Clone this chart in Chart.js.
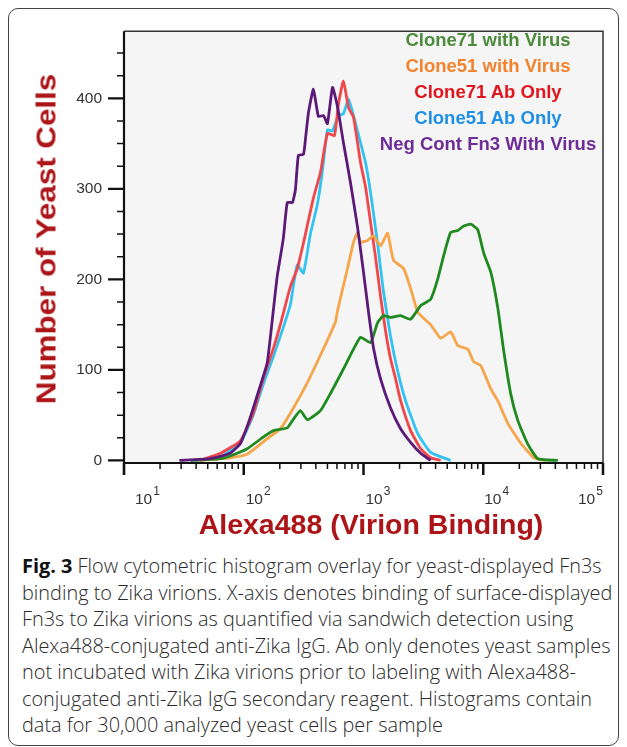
<!DOCTYPE html>
<html>
<head>
<meta charset="utf-8">
<script src="https://cdn.jsdelivr.net/npm/chart.js@4.4.1/dist/chart.umd.min.js"></script>
<style>
  body { margin: 0; width: 627px; height: 747px; background: #fff; position: relative; overflow: hidden; }
  .frame { position: absolute; left: 8px; top: 8px; width: 609px; height: 736px; border: 1.5px solid #444; border-radius: 10px; }
  #wrap { position: absolute; left: 0; top: 0; width: 627px; height: 545px; }
  .ytitle { position: absolute; left: 46px; top: 239px; transform: translate(-50%, -50%) rotate(-90deg) scaleX(1.1); white-space: nowrap;
    font: bold 28.5px "Liberation Sans", Arial, sans-serif; color: #ad1418; }
  .xtitle { position: absolute; left: 371px; top: 524px; transform: translate(-50%, -50%); white-space: nowrap;
    font: bold 28.5px "Liberation Sans", Arial, sans-serif; color: #ad1418; }
  .legend { position: absolute; left: 488px; top: 27px; transform: translateX(-50%); text-align: center; white-space: nowrap;
    font: bold 18.5px "Liberation Sans", Arial, sans-serif; line-height: 26px; }
  .caption { position: absolute; left: 22px; top: 553px; white-space: nowrap; color: #2a2a2a;
    font: 300 19.9px "Open Sans", sans-serif; line-height: 26.5px; }
  .caption b { font-weight: 700; color: #111; }
</style>
</head>
<body>
<div class="frame"></div>
<div id="wrap"><canvas id="myChart" width="627" height="545"></canvas></div>
<div class="ytitle">Number of Yeast Cells</div>
<div class="xtitle">Alexa488 (Virion Binding)</div>
<div class="legend" id="legend"></div>
<div class="caption"><b>Fig. 3</b> Flow cytometric histogram overlay for yeast-displayed Fn3s<br>binding to Zika virions. X-axis denotes binding of surface-displayed<br>Fn3s to Zika virions as quantified via sandwich detection using<br>Alexa488-conjugated anti-Zika IgG. Ab only denotes yeast samples<br>not incubated with Zika virions prior to labeling with Alexa488-<br>conjugated anti-Zika IgG secondary reagent. Histograms contain<br>data for 30,000 analyzed yeast cells per sample</div>

<script>
// series names (legend order) and values
const nombres = ["Clone71 with Virus", "Clone51 with Virus", "Clone71 Ab Only", "Clone51 Ab Only", "Neg Cont Fn3 With Virus"];

const grnX = [36, 64, 77, 107, 146, 177, 231, 255, 297, 340, 437, 530, 680, 944, 1145, 1310, 1470, 1683, 2041, 2473, 3000, 3638, 4159, 4667, 5346, 6120, 6870, 7852, 8995, 10090, 11560, 13210, 14860, 17000, 19450, 23550, 28580, 41980];
const grnY = [0, 2, 5, 13, 26, 33, 36, 44, 55, 45, 55, 74, 101, 136, 130, 152, 160, 158, 160, 156, 171, 178, 200, 226, 252, 254, 259, 261, 255, 229, 208, 169, 120, 73, 44, 18, 2, 0];

const oraX = [43, 77, 107, 157, 202, 260, 340, 412, 500, 583, 606, 735, 825, 891, 944, 1079, 1213, 1388, 1589, 1782, 2161, 2473, 2831, 3178, 3638, 4406, 5346, 6120, 7413, 8336, 9528, 11560, 13210, 16030, 20600, 26490, 33340];
const oraY = [0, 3, 7, 24, 35, 58, 86, 109, 133, 153, 165, 212, 241, 252, 241, 243, 248, 237, 251, 221, 212, 190, 164, 157, 150, 135, 142, 127, 123, 109, 105, 79, 66, 41, 19, 3, 0];

const redX = [43, 64, 94, 120, 146, 177, 202, 245, 280, 315, 340, 382, 437, 500, 572, 618, 680, 749, 825, 944, 1040, 1145, 1259, 1388, 1528, 1683, 1854, 2041, 2473, 3000, 3638, 4406];
const redY = [0, 8, 22, 52, 91, 124, 150, 192, 212, 240, 260, 290, 318, 361, 359, 394, 419, 390, 379, 329, 302, 263, 225, 181, 143, 112, 90, 66, 33, 13, 3, 0];

const cyanX = [39, 64, 94, 120, 146, 177, 214, 245, 255, 280, 315, 360, 412, 454, 500, 551, 618, 680, 749, 825, 944, 1040, 1145, 1310, 1470, 1683, 1928, 2245, 2831, 3638, 5346];
const cyanY = [0, 4, 20, 50, 85, 115, 147, 172, 186, 216, 207, 250, 283, 320, 365, 364, 381, 383, 399, 381, 351, 329, 296, 240, 186, 137, 99, 66, 30, 9, 0];

const negX = [29, 52, 77, 94, 113, 137, 157, 173, 184, 191, 214, 231, 255, 270, 286, 315, 327, 347, 382, 420, 463, 500, 551, 606, 680, 778, 891, 1000, 1101, 1213, 1388, 1683, 2041, 2473, 3000, 3638];
const negY = [0, 2, 8, 19, 47, 82, 108, 155, 187, 205, 245, 285, 285, 299, 337, 338, 354, 384, 410, 380, 381, 372, 412, 391, 351, 307, 258, 208, 164, 124, 90, 58, 35, 20, 8, 0];

const yTicks = [0, 100, 200, 300, 400];
const yMinor = [25, 50, 75, 125, 150, 175, 225, 250, 275, 325, 350, 375, 425, 450];
const xTicks = [10, 100, 1000, 10000, 100000];
const xExp = ["1", "2", "3", "4", "5"];

const lineColors = ["#1f8a1f", "#f6a54a", "#f0474b", "#33c3f2", "#5c1a78"];
const textColors = ["#4c8a3c", "#f2832c", "#e2141e", "#1e8fe6", "#6e2c96"];

const leg = document.getElementById("legend");
nombres.forEach((n, i) => {
  const d = document.createElement("div");
  d.textContent = n;
  d.style.color = textColors[i];
  leg.appendChild(d);
});

const pares = (xs, ys) => xs.map((x, i) => ({ x: x, y: ys[i] }));

const ejes = {
  id: "ejes",
  beforeDraw(chart) {
    const { ctx, chartArea: a } = chart;
    ctx.save();
    ctx.fillStyle = "#f5f5f5";
    ctx.fillRect(a.left, a.top, a.right - a.left, a.bottom - a.top);
    ctx.restore();
  },
  afterDraw(chart) {
    const { ctx, chartArea: a, scales } = chart;
    const xs = scales.x, ys = scales.y;
    ctx.save();
    // frame top/right
    ctx.strokeStyle = "#333";
    ctx.lineWidth = 1.5;
    ctx.beginPath();
    ctx.moveTo(a.left, a.top); ctx.lineTo(a.right, a.top); ctx.lineTo(a.right, a.bottom);
    ctx.stroke();
    // axes
    ctx.strokeStyle = "#111";
    ctx.lineWidth = 2.2;
    ctx.beginPath();
    ctx.moveTo(a.left, a.top); ctx.lineTo(a.left, a.bottom + 12);
    ctx.moveTo(a.left, a.bottom); ctx.lineTo(a.right, a.bottom);
    ctx.stroke();
    // y ticks
    ctx.lineWidth = 2.2;
    ctx.beginPath();
    yTicks.forEach(v => { const p = ys.getPixelForValue(v); ctx.moveTo(a.left - 16, p); ctx.lineTo(a.left, p); });
    ctx.stroke();
    ctx.lineWidth = 1.5;
    ctx.beginPath();
    yMinor.forEach(v => { const p = ys.getPixelForValue(v); ctx.moveTo(a.left - 7, p); ctx.lineTo(a.left, p); });
    ctx.stroke();
    // x ticks
    ctx.lineWidth = 2.5;
    ctx.beginPath();
    xTicks.forEach(v => { const p = xs.getPixelForValue(v); ctx.moveTo(p, a.bottom); ctx.lineTo(p, a.bottom + 12); });
    ctx.stroke();
    ctx.lineWidth = 1.5;
    ctx.beginPath();
    for (let d = 10; d < 100000; d *= 10) {
      for (let k = 2; k <= 9; k++) {
        const p = xs.getPixelForValue(d * k);
        ctx.moveTo(p, a.bottom); ctx.lineTo(p, a.bottom + 6);
      }
    }
    ctx.stroke();
    // x labels 10^n
    ctx.fillStyle = "#333";
    ctx.textBaseline = "alphabetic";
    const desp = [11, 2, 2, 1, -25];
    xTicks.forEach((v, i) => {
      const p = xs.getPixelForValue(v) + desp[i];
      ctx.font = "15.5px 'Liberation Sans', Arial, sans-serif";
      ctx.fillText("10", p, a.bottom + 41);
      const w = ctx.measureText("10").width;
      ctx.font = "12px 'Liberation Sans', Arial, sans-serif";
      ctx.fillText(xExp[i], p + w + 1, a.bottom + 32);
    });
    ctx.restore();
  }
};

const ctx = document.getElementById("myChart").getContext("2d");
const datos = [[grnX, grnY], [oraX, oraY], [redX, redY], [cyanX, cyanY], [negX, negY]];
// draw order: purple on top, then green, orange, red, cyan
const orden = [1, 2, 3, 4, 0];
const myChart = new Chart(ctx, {
  type: "line",
  data: {
    datasets: datos.map((d, i) => ({
      label: nombres[i],
      data: pares(d[0], d[1]),
      borderColor: lineColors[i],
      borderWidth: 2.8,
      pointRadius: 0,
      tension: 0.15,
      fill: false,
      order: orden[i]
    }))
  },
  plugins: [ejes],
  options: {
    responsive: false,
    animation: false,
    layout: { padding: { top: 26, right: 24, left: 0, bottom: 0 } },
    plugins: { legend: { display: false }, tooltip: { enabled: false } },
    scales: {
      x: {
        type: "logarithmic",
        min: 10, max: 100000,
        grid: { display: false, drawTicks: false },
        border: { display: false },
        ticks: { display: false },
        afterFit: s => { s.height = 82; }
      },
      y: {
        min: -2.8, max: 474,
        grid: { display: false, drawTicks: false },
        border: { display: false },
        afterBuildTicks: s => { s.ticks = yTicks.map(v => ({ value: v })); },
        ticks: { padding: 22, color: "#333", font: { size: 15.5, family: "'Liberation Sans', Arial, sans-serif" } },
        afterFit: s => { s.width = 124; }
      }
    }
  }
});
</script>
</body>
</html>
